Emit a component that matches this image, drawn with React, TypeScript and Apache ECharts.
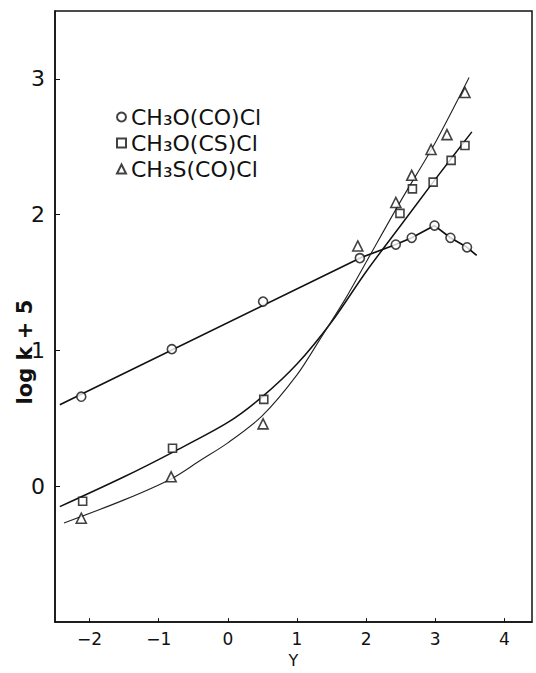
import React, { useEffect, useRef } from "react";
import * as echarts from "echarts";

// ---- data ----
const seriesNames = ["CH₃O(CO)Cl", "CH₃O(CS)Cl", "CH₃S(CO)Cl"];

const circleX = [-2.12, -0.81, 0.51, 1.91, 2.43, 2.66, 2.99, 3.22, 3.46];
const circleY = [0.66, 1.01, 1.36, 1.68, 1.78, 1.83, 1.92, 1.83, 1.76];

const squareX = [-2.1, -0.8, 0.52, 2.49, 2.67, 2.97, 3.23, 3.43];
const squareY = [-0.11, 0.28, 0.64, 2.01, 2.19, 2.24, 2.4, 2.51];

const triangleX = [-2.12, -0.82, 0.51, 1.88, 2.43, 2.66, 2.94, 3.17, 3.43];
const triangleY = [-0.235, 0.07, 0.46, 1.77, 2.09, 2.29, 2.48, 2.59, 2.9];

// fitted lines drawn in the figure
const circleLineX = [-2.43, 1.93, 2.43, 2.66, 2.99, 3.22, 3.46, 3.6];
const circleLineY = [0.6, 1.685, 1.78, 1.83, 1.92, 1.83, 1.76, 1.7];

const squareCurveX = [-2.43, -1.5, -0.8, 0, 0.5, 1.0, 1.5, 2.0, 2.5, 3.0, 3.53];
const squareCurveY = [-0.15, 0.07, 0.25, 0.47, 0.66, 0.9, 1.21, 1.58, 1.92, 2.26, 2.61];

const triangleCurveX = [-2.37, -1.5, -0.8, -0.4, 0, 0.5, 1.0, 1.33, 1.7, 2.0, 2.5, 3.0, 3.49];
const triangleCurveY = [-0.27, -0.1, 0.06, 0.19, 0.32, 0.52, 0.82, 1.08, 1.38, 1.65, 2.1, 2.53, 3.01];

const xTickLabels = [-2, -1, 0, 1, 2, 3, 4];
const yTickLabels = [0, 1, 2, 3];

const zip = (xs: number[], ys: number[]) => xs.map((x, i) => [x, ys[i]]);

const FONT = '"DejaVu Sans", sans-serif';

export default function App() {
  const ref = useRef<HTMLDivElement>(null);

  useEffect(() => {
    if (!ref.current) return;
    const chart = echarts.init(ref.current, undefined, { renderer: "svg" });

    const markerStyle = {
      color: "#ffffff",
      borderColor: "#111111",
      borderWidth: 1.6,
    };

    chart.setOption({
      animation: false,
      backgroundColor: "#ffffff",
      grid: {
        left: 55,
        right: 4,
        top: 11,
        bottom: 39,
        show: true,
        borderColor: "#111",
        borderWidth: 1.5,
      },
      legend: {
        data: seriesNames,
        orient: "vertical",
        left: 111,
        top: 100,
        itemWidth: 9,
        itemHeight: 9,
        itemGap: 2,
        selectedMode: false,
        formatter: (name: string) => {
          const i = name.indexOf("₃");
          return `{t|${name.slice(0, i)}}{s|₃}{t|${name.slice(i + 1)}}`;
        },
        textStyle: {
          rich: {
            t: {
              fontFamily: FONT,
              fontSize: 22,
              lineHeight: 24,
              color: "#111",
            },
            s: {
              fontFamily: FONT,
              fontSize: 24,
              lineHeight: 24,
              color: "#111",
            },
          },
        },
      },
      xAxis: {
        type: "value",
        min: -2.5,
        max: 4.4,
        name: "Y",
        nameLocation: "middle",
        nameGap: 24,
        nameTextStyle: { fontFamily: FONT, fontSize: 16, color: "#111" },
        splitLine: { show: false },
        axisLine: { onZero: false, lineStyle: { color: "#111", width: 1.5 } },
        axisTick: { inside: true, length: 4, lineStyle: { color: "#111" } },
        axisLabel: {
          margin: 8,
          fontFamily: FONT,
          fontSize: 17,
          color: "#111",
          showMinLabel: false,
          showMaxLabel: false,
          formatter: (v: number) =>
            xTickLabels.includes(v) ? (v < 0 ? "\u2212" + Math.abs(v) : String(v)) : "",
        },
      },
      yAxis: {
        type: "value",
        min: -1,
        max: 3.5,
        splitLine: { show: false },
        axisLine: { onZero: false, lineStyle: { color: "#111", width: 1.5 } },
        axisTick: { inside: true, length: 5, lineStyle: { color: "#111" } },
        axisLabel: {
          margin: 10,
          fontFamily: FONT,
          fontSize: 22,
          color: "#111",
          showMinLabel: false,
          showMaxLabel: false,
          formatter: (v: number) => (yTickLabels.includes(v) ? String(v) : ""),
        },
      },
      graphic: [
        {
          type: "text",
          x: 25,
          y: 352,
          rotation: Math.PI / 2,
          style: {
            text: "log k + 5",
            font: `bold 21px ${FONT}`,
            align: "center",
            verticalAlign: "middle",
            fill: "#111",
          },
        },
      ],
      series: [
        {
          name: "circleLine",
          type: "line",
          data: zip(circleLineX, circleLineY),
          showSymbol: false,
          lineStyle: { color: "#111", width: 1.7 },
          z: 1,
        },
        {
          name: "squareCurve",
          type: "line",
          data: zip(squareCurveX, squareCurveY),
          smooth: 0.3,
          showSymbol: false,
          lineStyle: { color: "#111", width: 1.5 },
          z: 1,
        },
        {
          name: "triangleCurve",
          type: "line",
          data: zip(triangleCurveX, triangleCurveY),
          smooth: 0.3,
          showSymbol: false,
          lineStyle: { color: "#222", width: 1.1 },
          z: 1,
        },
        {
          name: seriesNames[0],
          type: "scatter",
          symbol: "circle",
          symbolSize: 9,
          data: zip(circleX, circleY),
          itemStyle: markerStyle,
          z: 3,
        },
        {
          name: seriesNames[1],
          type: "scatter",
          symbol: "rect",
          symbolSize: 8,
          data: zip(squareX, squareY),
          itemStyle: markerStyle,
          z: 3,
        },
        {
          name: seriesNames[2],
          type: "scatter",
          symbol: "triangle",
          symbolSize: 10,
          data: zip(triangleX, triangleY),
          itemStyle: markerStyle,
          z: 3,
        },
      ],
    });

    return () => chart.dispose();
  }, []);

  return (
    <div
      ref={ref}
      style={{ position: "absolute", left: 0, top: 0, width: 536, height: 673, background: "#fff" }}
    />
  );
}
